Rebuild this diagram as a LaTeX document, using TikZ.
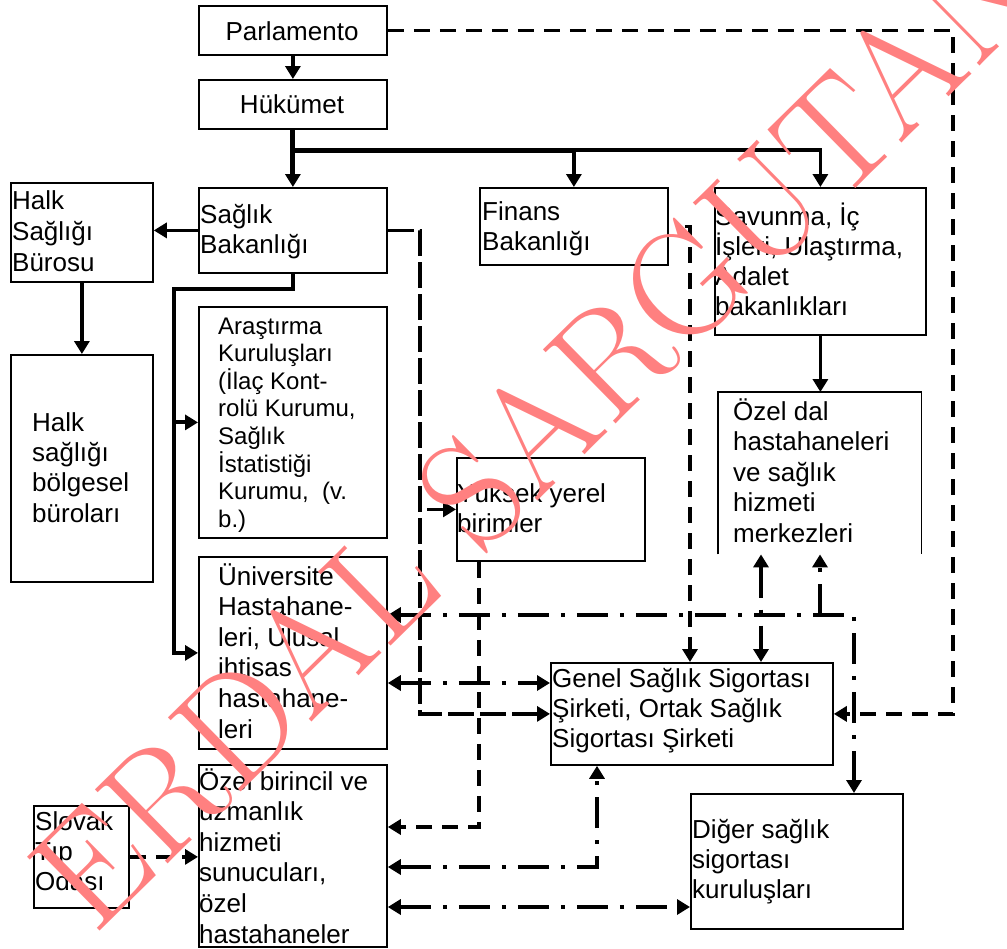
\documentclass[tikz,border=0pt]{standalone}
\usepackage{fontspec}
\setmainfont{Liberation Sans}
\newfontfamily\wmfont{Latin Modern Roman}
\usetikzlibrary{arrows.meta}
\definecolor{wm}{RGB}{255,128,128}
\newcommand\ml[2][30.5bp]{\vtop{\baselineskip=#1\relax\lineskiplimit=-200bp\lineskip=0bp\halign{##\hfil\cr#2\crcr}}}
\tikzset{
 box/.style={draw, line width=1.8bp, inner sep=0, anchor=north west},
 frame/.style={inner sep=0, anchor=north west},
 txt/.style={inner sep=0, anchor=base west, font=\fontsize{26bp}{30.5bp}\selectfont},
 smalltxt/.style={inner sep=0, anchor=base west, font=\fontsize{24bp}{27.6bp}\selectfont},
 arrowto/.style={-{Triangle[length=13bp,width=15bp]}},
 arrowboth/.style={{Triangle[length=13bp,width=15bp]}-{Triangle[length=13bp,width=15bp]}},
 heavy/.style={line width=5bp},
 solidln/.style={line width=3.5bp},
 dsh/.style={line width=3.4bp, dash pattern=on 16bp off 10bp},
 ldsh/.style={line width=3.4bp, dash pattern=on 26bp off 6bp},
 dd/.style={line width=3.4bp, dash pattern=on 31bp off 12bp on 4bp off 12bp},
}
\begin{document}
\begin{tikzpicture}[x=1bp,y=-1bp]
\useasboundingbox (0,0) rectangle (1007,949);
% boxes
\node[box, minimum width=188bp, minimum height=49bp] (par) at (198,5) {};
\node[box, minimum width=188bp, minimum height=49bp] (huk) at (198,79) {};
\node[box, minimum width=188bp, minimum height=85bp] (sb) at (198,187) {};
\node[box, minimum width=142bp, minimum height=99bp] (hsb) at (10,182) {};
\node[box, minimum width=142bp, minimum height=227bp] (hsbb) at (10,354) {};
\node[box, minimum width=188bp, minimum height=77bp] (fin) at (479,187) {};
\node[box, minimum width=211bp, minimum height=147bp] (sav) at (714,187) {};
\node[frame, minimum width=203bp, minimum height=162bp] (ozd) at (718,392) {};
\draw[line width=1.8bp] (ozd.south west) -- (ozd.north west) -- (ozd.north east) -- (ozd.south east);
\node[box, minimum width=188bp, minimum height=231bp] (ara) at (198,306) {};
\node[box, minimum width=188bp, minimum height=192bp] (uni) at (198,556) {};
\node[box, minimum width=188bp, minimum height=182bp] (ozb) at (198,764) {};
\node[box, minimum width=95bp, minimum height=102bp] (slo) at (33,805) {};
\node[box, minimum width=188bp, minimum height=103bp] (yuk) at (456,457) {};
\node[box, minimum width=282bp, minimum height=102bp] (gen) at (550,662) {};
\node[box, minimum width=212bp, minimum height=135bp] (dig) at (690,793) {};
% coordinates
\coordinate (j1) at (292,150);
\coordinate (k1) at (174,289);
\coordinate (c420) at (420,229);
\coordinate (c479) at (479,827);
\coordinate (c597) at (597,867);
\coordinate (c690) at (690,225);
\coordinate (c761) at (761,615);
\coordinate (c820) at (820,615);
\coordinate (c854) at (854,615);
\coordinate (c953) at (953,30);
\coordinate (y683) at (0,683);
\coordinate (y907) at (0,907);
% solid connectors
\draw[solidln, arrowto] (par.south) -- (huk.north);
\draw[heavy, arrowto] (huk.south) -- (sb.north);
\draw[heavy] (j1) -- (j1 -| fin.north);
\draw[solidln, arrowto] (j1 -| fin.north) -- (fin.north);
\draw[solidln, arrowto] (j1 -| fin.north) -- (j1 -| sav.north) -- (sav.north);
\draw[solidln, arrowto] (sb.west) -- (hsb.east |- sb.west);
\draw[solidln, arrowto] (hsb.south) -- (hsbb.north);
\draw[line width=4bp, arrowto] (sb.south) -- (sb.south |- k1) -- (k1) |- (uni.west);
\draw[line width=4bp, arrowto] (k1 |- ara.west) -- (ara.west);
\draw[solidln, arrowto] (sav.south) -- (ozd.north -| sav.south);
% dashed connectors
\draw[dsh, arrowto] (par.east) -- (c953 |- par.east) |- (gen.east);
\draw[dsh, arrowto] ([xshift=16bp]fin.east) -| (c690 |- gen.north);
\draw[ldsh, arrowto] (sb.east) -| (c420 |- gen.west) -- (gen.west);
\draw[dsh, arrowto] ([xshift=7bp]c420 |- yuk.west) -- (yuk.west);
\draw[dsh, arrowto] (c479 |- yuk.south) -- (c479) -- (ozb.east |- c479);
\draw[dsh, arrowto] (slo.east) -- (ozb.west |- slo.east);
% dash-dot connectors
\draw[dd, arrowboth] (uni.east |- c854) -| (dig.north -| c854);
\draw[dd, arrowto] (c820) -- (c820 |- ozd.south);
\draw[dd, arrowboth] (c761 |- ozd.south) -- (c761 |- gen.north);
\draw[dd, arrowboth] (uni.east |- y683) -- (gen.west |- y683);
\draw[dd, arrowboth] (ozb.east |- c597) -| (c597 |- gen.south);
\draw[dd, arrowboth] (ozb.east |- y907) -- (dig.west |- y907);
% texts
\node[txt, anchor=base] (par-t) at (292,40) {Parlamento};
\node[txt, anchor=base] (huk-t) at (292,113) {Hükümet};
\node[txt] (sb-t) at (200,223) {\ml[30bp]{Sağlık\cr Bakanlığı}};
\node[txt] (hsb-t) at (12,209) {\ml[31bp]{Halk\cr Sağlığı\cr Bürosu}};
\node[txt] (hsbb-t) at (32,431) {\ml[30.4bp]{Halk\cr sağlığı\cr bölgesel\cr büroları}};
\node[smalltxt] (ara-t) at (218,334) {\ml[27.6bp]{Araştırma\cr Kuruluşları\cr (İlaç Kont-\cr rolü Kurumu,\cr Sağlık\cr İstatistiği\cr Kurumu,\ \ (v.\cr b.)}};
\node[txt] (uni-t) at (218,585) {\ml[30.6bp]{Üniversite\cr Hastahane-\cr leri, Ulusal\cr ihtisas\cr hastahane-\cr leri}};
\node[txt] (ozb-t) at (199,790) {\ml[30.6bp]{Özel birincil ve\cr uzmanlık\cr hizmeti\cr sunucuları,\cr özel\cr hastahaneler}};
\node[txt] (slo-t) at (35,830) {\ml[30bp]{Slovak\cr Tıp\cr Odası}};
\node[txt] (fin-t) at (482,220) {\ml[30bp]{Finans\cr Bakanlığı}};
\node[txt] (sav-t) at (715,225) {\ml[30bp]{Savunma, İç\cr İşleri, Ulaştırma,\cr Adalet\cr bakanlıkları}};
\node[txt] (ozd-t) at (733,420) {\ml[30.5bp]{Özel dal\cr hastahaneleri\cr ve sağlık\cr hizmeti\cr merkezleri}};
\node[txt] (yuk-t) at (457,502) {\ml[30bp]{Yüksek yerel\cr birimler}};
\node[txt] (gen-t) at (552,687) {\ml[30bp]{Genel Sağlık Sigortası\cr Şirketi, Ortak Sağlık\cr Sigortası Şirketi}};
\node[txt] (dig-t) at (692,838) {\ml[30bp]{Diğer sağlık\cr sigortası\cr kuruluşları}};
% watermark
\node[rotate=44.5, anchor=base west, inner sep=0, text=wm, font=\wmfont\fontsize{152bp}{152bp}\selectfont] (wm) at (94,937) {ERDAL SARGUTAN};
\end{tikzpicture}
\end{document}
